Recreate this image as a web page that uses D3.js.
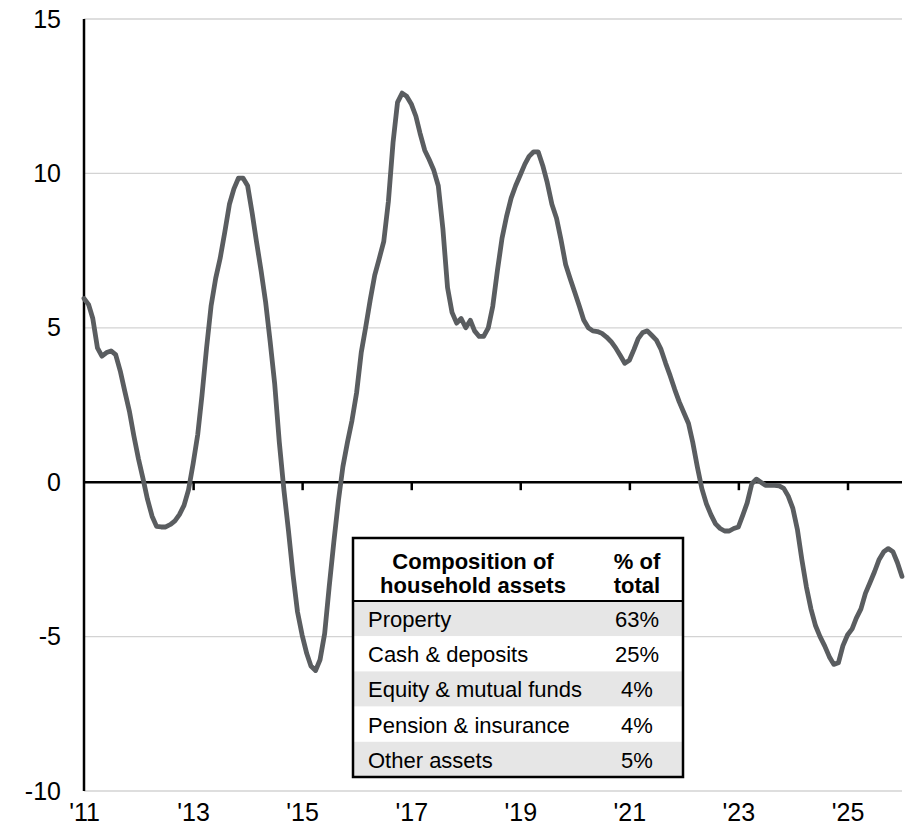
<!DOCTYPE html>
<html><head><meta charset="utf-8">
<script src="https://cdn.jsdelivr.net/npm/d3@7"></script>
<style>body{margin:0;background:#fff}svg{display:block}text{font-family:Arial,"Liberation Sans",sans-serif}</style>
</head><body><svg id="c" width="920" height="835"></svg>
<script>
// Monthly series, Jan 2011 .. Jan 2026 (% y/y)
const startMonth = "2011-01";
const values = [
5.95,5.75,5.3,4.35,4.08,4.2,4.25,4.13,3.6,2.95,2.3,1.5,
0.75,0.1,-0.55,-1.1,-1.43,-1.45,-1.45,-1.37,-1.25,-1.05,-0.75,-0.25,
0.6,1.55,2.8,4.35,5.7,6.6,7.25,8.1,9.0,9.5,9.85,9.85,
9.6,8.7,7.8,6.85,5.85,4.55,3.2,1.3,-0.25,-1.55,-3.0,-4.2,
-4.95,-5.55,-5.95,-6.1,-5.75,-4.9,-3.4,-1.95,-0.6,0.5,1.3,2.0,
2.9,4.2,5.0,5.9,6.7,7.25,7.8,9.1,11.0,12.3,12.6,12.5,
12.25,11.85,11.3,10.75,10.45,10.1,9.6,8.2,6.3,5.5,5.15,5.3,
5.0,5.24,4.9,4.72,4.72,5.0,5.7,6.85,7.9,8.6,9.2,9.6,
9.95,10.3,10.55,10.7,10.7,10.25,9.7,9.0,8.55,7.85,7.05,6.6,
6.15,5.7,5.25,5.0,4.9,4.88,4.82,4.7,4.55,4.35,4.1,3.85,
3.95,4.3,4.65,4.85,4.9,4.75,4.6,4.3,3.85,3.45,3.0,2.6,
2.25,1.9,1.3,0.5,-0.2,-0.7,-1.05,-1.35,-1.5,-1.58,-1.58,-1.5,
-1.45,-1.05,-0.67,-0.05,0.1,0.0,-0.1,-0.1,-0.1,-0.12,-0.2,-0.45,
-0.85,-1.55,-2.5,-3.4,-4.1,-4.65,-5.0,-5.3,-5.65,-5.9,-5.85,-5.3,
-4.95,-4.75,-4.4,-4.1,-3.6,-3.25,-2.9,-2.5,-2.25,-2.15,-2.25,-2.6,
-3.05
];
const yTicks = [-10,-5,0,5,10,15];
const yTickLabels = ["-10","-5","0","5","10","15"];
const xTickYears = [2011,2013,2015,2017,2019,2021,2023,2025];
const xTickLabels = ["'11","'13","'15","'17","'19","'21","'23","'25"];
const tableHeader = [["Composition of","household assets"],["% of","total"]];
const assetNames = ["Property","Cash & deposits","Equity & mutual funds","Pension & insurance","Other assets"];
const assetShares = ["63%","25%","4%","4%","5%"];

const svg = d3.select("#c");
const parse = d3.timeParse("%Y-%m");
const t0 = parse(startMonth);
const dates = values.map((v,i)=>d3.timeMonth.offset(t0,i));

const x = d3.scaleTime().domain([new Date(2011,0,1), new Date(2026,0,1)]).range([84,902]);
const y = d3.scaleLinear().domain([-10,15]).range([791,19]);

// gridlines
svg.append("g").selectAll("line").data(yTicks).join("line")
  .attr("x1",84).attr("x2",902).attr("y1",d=>y(d)).attr("y2",d=>y(d))
  .attr("stroke","#d3d3d3").attr("stroke-width",1.3);

// y labels
const ya = svg.append("g").attr("transform","translate(84,0)")
  .call(d3.axisLeft(y).tickValues(yTicks).tickSize(0).tickPadding(23).tickFormat((d,i)=>yTickLabels[i]));
ya.select(".domain").remove();
ya.selectAll("text").attr("font-size",25).attr("fill","#000").style("font-family","Arial,'Liberation Sans',sans-serif");

// zero line with tick marks
const xa = svg.append("g").attr("transform",`translate(0,${y(0)})`)
  .call(d3.axisBottom(x).tickValues(xTickYears.slice(1).map(yr=>new Date(yr,0,1))).tickSize(8).tickFormat(""));
xa.select(".domain").attr("stroke","#000").attr("stroke-width",2.5).attr("d",`M84,0H902`);
xa.selectAll(".tick line").attr("stroke","#000").attr("stroke-width",2.5);

// x labels at bottom
const xl = svg.append("g").attr("transform","translate(0,800)")
  .call(d3.axisBottom(x).tickValues(xTickYears.map(yr=>new Date(yr,0,1))).tickSize(0).tickPadding(0)
    .tickFormat((d,i)=>xTickLabels[i]));
xl.select(".domain").remove();
xl.selectAll("text").attr("font-size",25).attr("fill","#000").attr("dy","0.82em").style("font-family","Arial,'Liberation Sans',sans-serif");

// y axis line
svg.append("line").attr("x1",84).attr("x2",84).attr("y1",y(15)).attr("y2",y(-10))
  .attr("stroke","#000").attr("stroke-width",2.5);

// series line
svg.append("path").datum(values)
  .attr("fill","none").attr("stroke","#5a5d60").attr("stroke-width",4.8)
  .attr("stroke-linejoin","round").attr("stroke-linecap","round")
  .attr("d",d3.line().x((d,i)=>x(dates[i])).y(d=>y(d)));

// table
const tx=353, tw=330, ty=538, hh=63, rh=35.2, vc=637;
const tg = svg.append("g");
tg.append("rect").attr("x",tx).attr("y",ty).attr("width",tw).attr("height",hh+rh*assetNames.length).attr("fill","#fff");
tg.selectAll("rect.row").data(assetNames).join("rect").attr("class","row")
  .attr("x",tx).attr("y",(d,i)=>ty+hh+i*rh).attr("width",tw).attr("height",rh)
  .attr("fill",(d,i)=>i%2===0?"#e6e6e6":"#fff");
tg.append("line").attr("x1",tx).attr("x2",tx+tw).attr("y1",ty+hh).attr("y2",ty+hh).attr("stroke","#000").attr("stroke-width",2);
tg.append("rect").attr("x",tx).attr("y",ty).attr("width",tw).attr("height",hh+rh*assetNames.length)
  .attr("fill","none").attr("stroke","#000").attr("stroke-width",2.5);
const hx=[473, vc];
tableHeader.forEach((lines,c)=>{
  lines.forEach((s,j)=>{
    tg.append("text").attr("x",hx[c]).attr("y",ty+31+j*24).attr("text-anchor","middle")
      .attr("font-size",22).attr("font-weight","bold").text(s);
  });
});
tg.selectAll("text.nm").data(assetNames).join("text").attr("class","nm")
  .attr("x",368).attr("y",(d,i)=>ty+hh+i*rh+26).attr("font-size",22).text(d=>d);
tg.selectAll("text.vl").data(assetShares).join("text").attr("class","vl")
  .attr("x",vc).attr("y",(d,i)=>ty+hh+i*rh+26).attr("text-anchor","middle").attr("font-size",22).text(d=>d);
</script></body></html>
